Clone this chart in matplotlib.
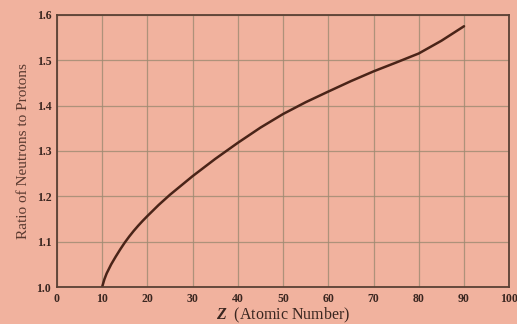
import matplotlib.pyplot as plt

# values
z = [10, 10.5, 11, 12, 13, 14, 15, 16, 17, 18, 19, 20, 22.5, 25, 30, 35, 40, 45, 50,
     55, 60, 65, 70, 75, 80, 85, 90]
ratio = [1.0, 1.017, 1.030, 1.050, 1.067, 1.083, 1.098, 1.1115, 1.124, 1.1355, 1.1463, 1.1565,
         1.181, 1.2035, 1.2445, 1.2825, 1.318, 1.3515, 1.3815, 1.4075, 1.431, 1.454, 1.4755,
         1.495, 1.515, 1.543, 1.575]

xticks = [0, 10, 20, 30, 40, 50, 60, 70, 80, 90, 100]
yticks = [1.0, 1.1, 1.2, 1.3, 1.4, 1.5, 1.6]

bg = '#f1b29e'
plt.rcParams['font.family'] = ['Liberation Serif', 'DejaVu Serif']
plt.rcParams['mathtext.fontset'] = 'custom'
plt.rcParams['mathtext.it'] = 'Liberation Serif:italic:bold'

fig = plt.figure(figsize=(5.17, 3.24), dpi=100, facecolor=bg)
ax = fig.add_axes([0.110, 0.114, 0.875, 0.840])
ax.set_facecolor(bg)

ax.plot(z, ratio, color='#4a2418', lw=1.8, solid_capstyle='round')

ax.set_xlim(0, 100)
ax.set_ylim(1.0, 1.6)
ax.set_xticks(xticks)
ax.set_yticks(yticks)
ax.set_xticklabels([str(t) for t in xticks], fontsize=8.5, fontweight='bold', color='#3a2620')
ax.set_yticklabels(['%.1f' % t for t in yticks], fontsize=8.5, fontweight='bold', color='#3a2620')
ax.tick_params(length=0, pad=4)
ax.grid(True, color='#9e8a72', lw=0.9, alpha=0.8)
ax.set_axisbelow(True)
for s in ax.spines.values():
    s.set_color('#5a4034')
    s.set_linewidth(1.3)

ax.set_ylabel('Ratio of Neutrons to Protons', fontsize=11, color='#5a3a30', labelpad=5)
ax.set_xlabel(r'$Z$  (Atomic Number)', fontsize=11.5, color='#3a2620', labelpad=1)

fig.savefig('out.png', dpi=100, facecolor=bg)
